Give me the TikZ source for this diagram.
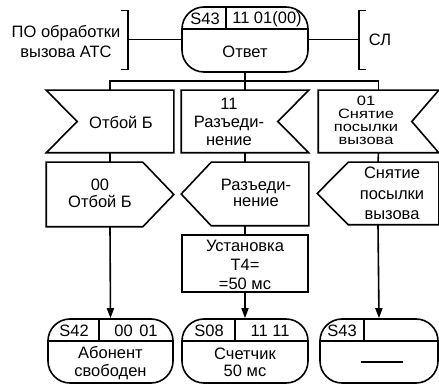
\documentclass[tikz,border=0pt]{standalone}
\usepackage{fontspec}
\usepackage{graphicx}
\setmainfont{Liberation Sans}
\usetikzlibrary{arrows.meta,calc}
\begin{document}
\begin{tikzpicture}[x=1pt,y=-1pt,line width=1.6pt,
  txt/.style={font=\fontsize{16.5}{#1}\selectfont,align=center,inner sep=0pt},
  txt/.default=17,
  holder/.style={draw=none,inner sep=0pt,minimum width=#1},
  statebox/.style={draw,rounded corners=22pt,inner sep=0pt,minimum width=#1},
  arr/.style={-{Triangle[length=10pt,width=7pt]}}]
\useasboundingbox (0,0) rectangle (439,387);

% ---------- top state ----------
\node[statebox=126pt,minimum height=65pt] (st0) at (245,39.5) {};
\draw ($(st0.north west)+(0,23)$) -- ($(st0.north east)+(0,23)$);
\draw ($(st0.north west)+(45,0)$) -- ++(0,23);
\node[txt] (st0a) at (205,19) {S43};
\node[txt] (st0b) at (267,19) {11 01(00)};
\node[txt] (st0c) at (245,52) {Ответ};

% ---------- brackets ----------
\coordinate (lb) at (128,39.5);
\draw ($(lb)+(-7,-29)$) -- ++(7,0) -- ++(0,59) -- ++(-7,0);
\draw (lb) -- (st0.west);
\node[txt=20] (lbt) at (66,42) {ПО обработки\\вызова АТС};
\coordinate (rb) at (359,39.5);
\draw ($(rb)+(7,-29)$) -- ++(-7,0) -- ++(0,59) -- ++(7,0);
\draw (rb) -- (st0.east);
\node[txt] (rbt) at (380,40) {СЛ};

% ---------- inputs ----------
\node[holder=126pt,minimum height=61pt] (in1) at (110,121.5) {};
\draw (in1.north west) -- (in1.north east) -- (in1.south east) -- (in1.south west) -- ($(in1.west)+(31,0)$) -- cycle;
\node[txt] (in1t) at (121,122) {Отбой Б};

\node[holder=126pt,minimum height=61pt] (in2) at (245,121.5) {};
\draw (in2.north west) -- (in2.north east) -- ($(in2.east)+(-31,0)$) -- (in2.south east) -- (in2.south west) -- cycle;
\node[txt=18] (in2t) at (229,122) {11\\Разъеди-\\нение};

\node[holder=119pt,minimum height=61pt] (in3) at (378.5,121.5) {};
\draw (in3.north west) -- (in3.north east) -- ($(in3.east)+(-27,0)$) -- (in3.south east) -- (in3.south west) -- cycle;
\node[inner sep=0pt,font=\fontsize{16.5}{15.6}\selectfont] (in3t) at (366,122)
  {\scalebox{1}[0.82]{\begin{tabular}{@{}c@{}}01\\Снятие\\посылки\\вызова\end{tabular}}};

% bus
\coordinate (bus) at (245,81);
\draw (st0.south) -- (in2.north);
\draw (in1.north) |- (bus) -| (in3.north);

% ---------- outputs ----------
\node[holder=126pt,minimum height=63pt] (out1) at (110,194.5) {};
\draw (out1.north west) -- ($(out1.north east)+(-31,0)$) -- (out1.east) -- ($(out1.south east)+(-31,0)$) -- (out1.south west) -- cycle;
\node[txt] (out1t) at (100,193) {00\\Отбой Б};

\node[holder=126pt,minimum height=62pt] (out2) at (245,194) {};
\draw (out2.north east) -- ($(out2.north west)+(30,0)$) -- (out2.west) -- ($(out2.south west)+(30,0)$) -- (out2.south east) -- cycle;
\node[txt=16.5] (out2t) at (256,193) {Разъеди-\\нение};

\node[holder=120pt,minimum height=61pt] (out3) at (378,193.5) {};
\draw (out3.north east) -- ($(out3.north west)+(31,0)$) -- (out3.west) -- ($(out3.south west)+(31,0)$) -- (out3.south east) -- cycle;
\node[txt=20.5] (out3t) at (392,193.5) {Снятие\\посылки\\вызова};

\draw (in1.south) -- (out1.north);
\draw (in2.south) -- (out2.north);
\draw (in3.south) -- (out3.north);

% ---------- task ----------
\node[draw,inner sep=0pt,minimum width=126pt,minimum height=57pt] (task) at (245,263.5) {};
\node[txt=19] (taskt) at (245,264.5) {Установка\\T4=\\=50 мс};
\draw (out2.south) -- (task.north);

% ---------- bottom states ----------
\node[statebox=125pt,minimum height=64pt] (st1) at (110.5,351) {};
\draw ($(st1.north west)+(0,23)$) -- ($(st1.north east)+(0,23)$);
\draw ($(st1.north west)+(52,0)$) -- ++(0,23);
\node[txt] (st1a) at (74,331) {S42};
\node[txt] (st1b) at (136,331) {00\hspace{0.4em}01};
\node[txt=18] (st1c) at (110.5,363) {Абонент\\свободен};

\node[statebox=126pt,minimum height=64pt] (st2) at (245,351) {};
\draw ($(st2.north west)+(0,23)$) -- ($(st2.north east)+(0,23)$);
\draw ($(st2.north west)+(54,0)$) -- ++(0,23);
\node[txt] (st2a) at (209,331) {S08};
\node[txt] (st2b) at (270,331) {11 11};
\node[txt=17] (st2c) at (245,362) {Счетчик\\50 мс};

\node[statebox=118pt,minimum height=64pt] (st3) at (379,351) {};
\draw ($(st3.north west)+(0,23)$) -- ($(st3.north east)+(0,23)$);
\draw ($(st3.north west)+(45,0)$) -- ++(0,23);
\node[txt] (st3a) at (342,331) {S43};
\coordinate (dsh) at (381.5,362);
\draw ($(dsh)+(-21,0)$) -- ($(dsh)+(21,0)$);

% ---------- arrows ----------
\draw[arr] (out1.south) -- (st1.north);
\draw[arr] (task.south) -- (st2.north);
\draw[arr] (out3.south) -- (st3.north);
\end{tikzpicture}
\end{document}
